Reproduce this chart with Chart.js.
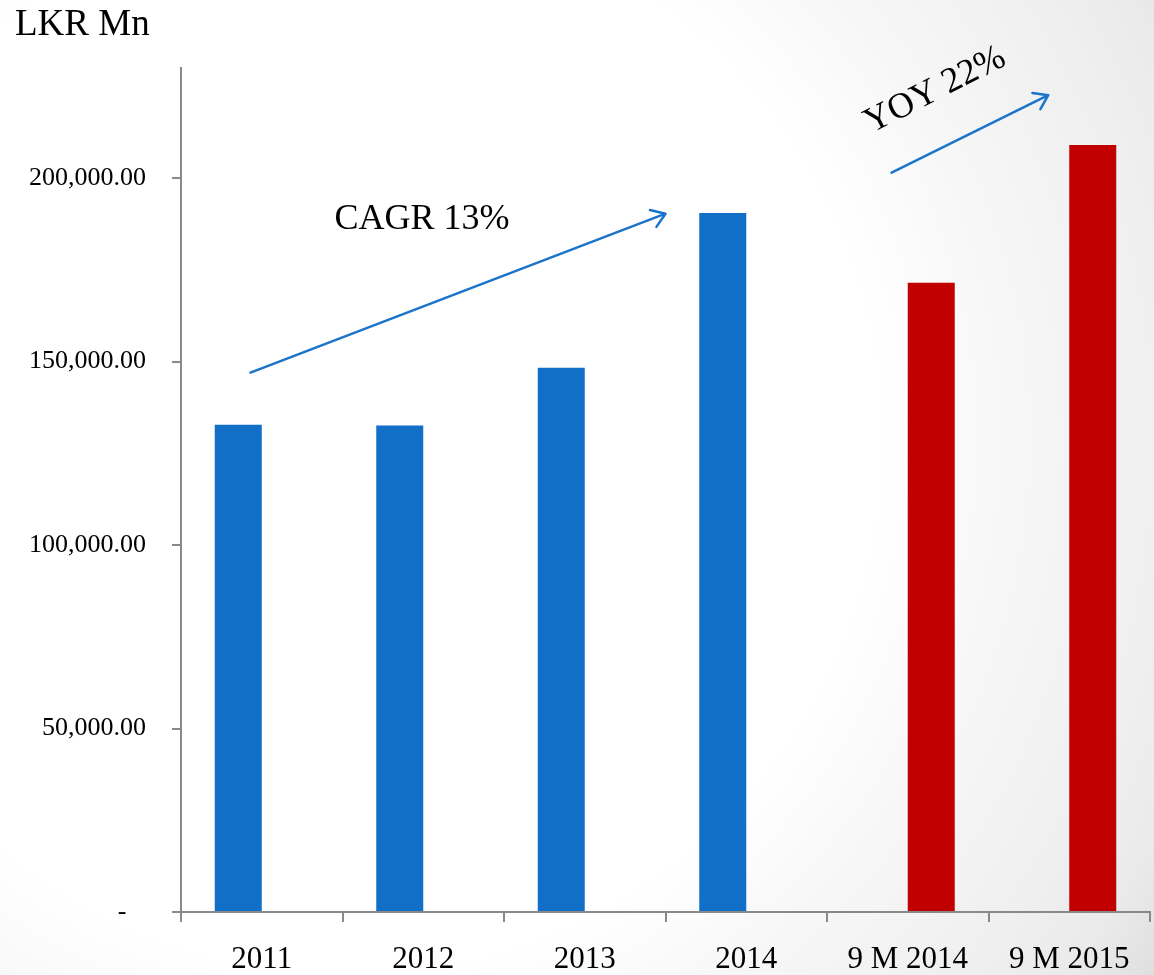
<!DOCTYPE html>
<html lang="en">
<head>
<meta charset="UTF-8">
<title>LKR Mn</title>
<script src="https://cdn.jsdelivr.net/npm/chart.js"></script>
<style>
  html, body { margin: 0; padding: 0; }
  body {
    width: 1154px; height: 975px; overflow: hidden;
    background: radial-gradient(circle farthest-corner at 30% 45%, #ffffff 55%, #f7f7f7 68%, #efefef 85%, #eaeaea 93%, #dfdfdf 100%);
  }
  canvas { display: block; }
</style>
</head>
<body>
<canvas id="grafico" width="1154" height="975"></canvas>

<script>
const categorias = ['2011', '2012', '2013', '2014', '9 M 2014', '9 M 2015'];
const anuais = [132800, 132600, 148300, 190500, null, null];
const noveMeses = [null, null, null, null, 171500, 209000];
const ticksY = [0, 50000, 100000, 150000, 200000];

const fonte = '"Liberation Serif", "DejaVu Serif", serif';
const azul = '#116fc7';
const vermelho = '#c00000';
const cinza = '#898989';

// anotações em coordenadas de dados (índice da categoria, valor)
const setaCagr = { de: [-0.07, 147000], ate: [2.5, 190300] };
const setaYoy = { de: [3.9, 201500], ate: [4.87, 222600] };
const textoCagr = { texto: 'CAGR 13%', pos: [0.45, 186200] };
const textoYoy = { texto: 'YOY 22%', pos: [4.17, 223900], angulo: -27 };

function seta(ctx, x1, y1, x2, y2) {
  const a = Math.atan2(y2 - y1, x2 - x1);
  const tam = 16;
  ctx.beginPath();
  ctx.moveTo(x1, y1);
  ctx.lineTo(x2, y2);
  ctx.moveTo(x2 - tam * Math.cos(a - 0.6), y2 - tam * Math.sin(a - 0.6));
  ctx.lineTo(x2, y2);
  ctx.lineTo(x2 - tam * Math.cos(a + 0.6), y2 - tam * Math.sin(a + 0.6));
  ctx.stroke();
}

const anotacoes = {
  id: 'anotacoes',
  afterDraw(chart) {
    const ctx = chart.ctx;
    const x = chart.scales.x, y = chart.scales.y;
    const px = p => [x.getPixelForValue(p[0]), y.getPixelForValue(p[1])];

    ctx.save();
    ctx.fillStyle = '#000';
    ctx.font = '37px ' + fonte;
    ctx.textAlign = 'left';
    ctx.textBaseline = 'alphabetic';
    ctx.fillText('LKR Mn', 15, 35);

    ctx.strokeStyle = '#1a74cc';
    ctx.lineWidth = 2.5;
    ctx.lineCap = 'round';
    ctx.lineJoin = 'round';
    seta(ctx, ...px(setaCagr.de), ...px(setaCagr.ate));
    seta(ctx, ...px(setaYoy.de), ...px(setaYoy.ate));

    ctx.font = '36px ' + fonte;
    const [cx, cy] = px(textoCagr.pos);
    ctx.fillText(textoCagr.texto, cx, cy);

    const [yx, yy] = px(textoYoy.pos);
    ctx.translate(yx, yy);
    ctx.rotate(textoYoy.angulo * Math.PI / 180);
    ctx.textAlign = 'center';
    ctx.textBaseline = 'middle';
    ctx.fillText(textoYoy.texto, 0, 0);
    ctx.restore();
  }
};

new Chart(document.getElementById('grafico'), {
  type: 'bar',
  data: {
    labels: categorias,
    datasets: [
      { label: 'Anual', data: anuais, backgroundColor: azul },
      { label: '9 meses', data: noveMeses, backgroundColor: vermelho }
    ]
  },
  options: {
    responsive: false,
    animation: false,
    devicePixelRatio: 1,
    layout: { padding: { top: 68, right: 4, left: 0, bottom: 0 } },
    datasets: { bar: { categoryPercentage: 0.582, barPercentage: 1.0 } },
    plugins: {
      legend: { display: false },
      tooltip: { enabled: false }
    },
    scales: {
      x: {
        offset: true,
        afterFit(s) { s.height = 63; },
        grid: { display: true, offset: true, drawOnChartArea: false, tickLength: 10, color: cinza, lineWidth: 2 },
        border: { color: cinza, width: 2 },
        ticks: { color: '#000', font: { family: fonte, size: 31 }, padding: 19, maxRotation: 0 }
      },
      y: {
        min: 0,
        max: 230000,
        afterFit(s) { s.width = 181; },
        afterBuildTicks(s) { s.ticks = ticksY.map(v => ({ value: v })); },
        grid: { display: true, drawOnChartArea: false, tickLength: 9, color: cinza, lineWidth: 2 },
        border: { color: cinza, width: 2 },
        ticks: {
          color: '#000',
          font: { family: fonte, size: 26 },
          padding: 26,
          callback: v => v === 0 ? '-   ' : v.toLocaleString('en-US', { minimumFractionDigits: 2, maximumFractionDigits: 2 })
        }
      }
    }
  },
  plugins: [anotacoes]
});
</script>
</body>
</html>
